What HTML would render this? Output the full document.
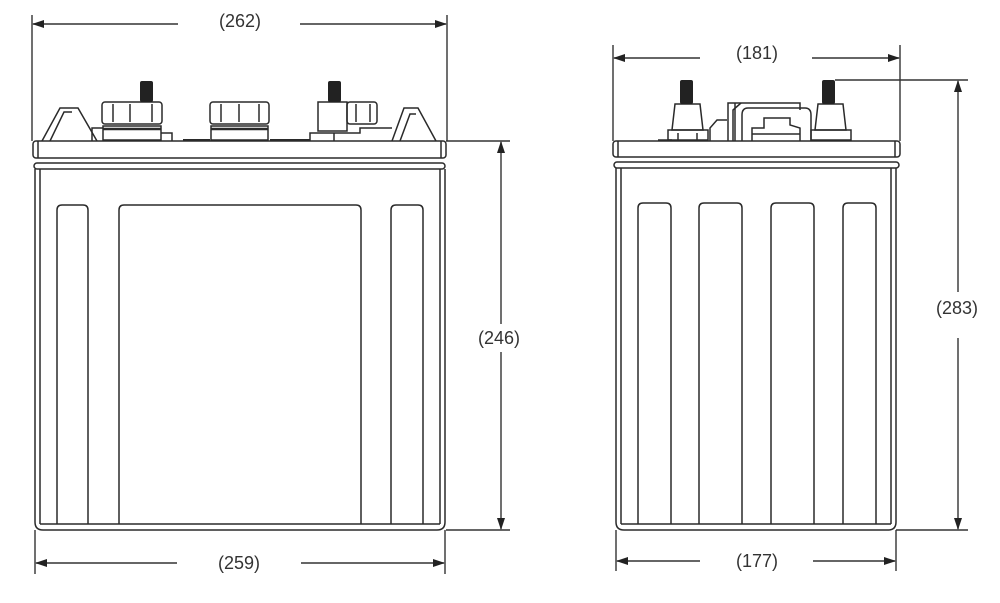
<!DOCTYPE html>
<html><head><meta charset="utf-8"><style>
html,body{margin:0;padding:0;background:#fff;}
svg{display:block;}
text{font-family:"Liberation Sans",sans-serif;font-size:18px;fill:#333;}
</style></head><body>
<svg width="1000" height="603" viewBox="0 0 1000 603" xmlns="http://www.w3.org/2000/svg">
<defs>
<marker id="a" markerWidth="12" markerHeight="8" refX="11" refY="4" orient="auto" markerUnits="userSpaceOnUse">
<path d="M0,0 L12,4 L0,8 Z" fill="#222"/></marker>
</defs>
<g stroke="#2a2a2a" stroke-width="1.5" fill="none">
<!-- LEFT BATTERY -->
<path d="M42,141 L60,108 L78,108 L97,141"/>
<path d="M50,141 L64,112 L72,112"/>
<path d="M392,141 L404,108 L418,108 L436,141"/>
<path d="M400,141 L410,114 L416,114"/>
<rect x="102" y="102" width="60" height="22" rx="3"/>
<line x1="113" y1="104" x2="113" y2="122"/><line x1="130" y1="104" x2="130" y2="122"/><line x1="152" y1="104" x2="152" y2="122"/>
<rect x="103" y="126" width="58" height="14"/>
<line x1="103" y1="129" x2="161" y2="129" stroke-width="2.5"/>
<path d="M161,133 L172,133 L172,141"/>
<path d="M92,141 L92,128 L103,128"/>
<rect x="210" y="102" width="59" height="22" rx="3"/>
<line x1="221" y1="104" x2="221" y2="122"/><line x1="239" y1="104" x2="239" y2="122"/><line x1="259" y1="104" x2="259" y2="122"/>
<rect x="211" y="126" width="57" height="14"/>
<line x1="211" y1="129" x2="268" y2="129" stroke-width="2.5"/>
<line x1="183" y1="140" x2="210" y2="140" stroke-width="2"/>
<line x1="270" y1="140" x2="310" y2="140" stroke-width="2"/>
<path d="M318,102 L347,102 L347,131 L318,131 Z"/>
<rect x="347" y="102" width="30" height="22" rx="3"/>
<line x1="356" y1="104" x2="356" y2="122"/><line x1="370" y1="104" x2="370" y2="122"/>
<path d="M310,141 L310,133 L360,133 L360,128 L392,128"/>
<line x1="334" y1="133" x2="334" y2="141"/>
<rect x="33" y="141" width="413" height="17" rx="3"/>
<line x1="38" y1="141" x2="38" y2="158"/><line x1="441" y1="141" x2="441" y2="158"/>
<rect x="34" y="163" width="411" height="6" rx="3"/>
<path d="M35,169 L35,522 Q35,530 43,530 L437,530 Q445,530 445,522 L445,169"/>
<line x1="40" y1="169" x2="40" y2="524"/><line x1="440" y1="169" x2="440" y2="524"/>
<line x1="40" y1="524" x2="440" y2="524"/>
<path d="M57,524 L57,210 Q57,205 62,205 L83,205 Q88,205 88,210 L88,524"/>
<path d="M119,524 L119,210 Q119,205 124,205 L356,205 Q361,205 361,210 L361,524"/>
<path d="M391,524 L391,210 Q391,205 396,205 L418,205 Q423,205 423,210 L423,524"/>

<!-- RIGHT BATTERY -->
<path d="M672,130 L675,104 L700,104 L703,130 Z"/>
<rect x="668" y="130" width="40" height="10"/>
<line x1="658" y1="140" x2="672" y2="140"/>
<line x1="678" y1="133" x2="678" y2="141"/><line x1="697" y1="133" x2="697" y2="141"/>
<path d="M815,130 L818,104 L843,104 L846,130 Z"/>
<rect x="811" y="130" width="40" height="10"/>
<path d="M728,141 L728,103 L800,103 L800,110"/>
<path d="M733,141 L733,110 L741,103"/>
<line x1="735" y1="103" x2="735" y2="141"/>
<path d="M742,141 L742,115 Q742,108 748,108 L805,108 Q811,108 811,115 L811,141"/>
<path d="M710,141 L710,128 L717,120 L727,120"/>
<path d="M752,141 L752,128 L764,128 L764,118 L790,118 L790,125 L800,128 L800,141"/>
<line x1="752" y1="134" x2="800" y2="134"/>
<rect x="613" y="141" width="287" height="16" rx="3"/>
<line x1="618" y1="141" x2="618" y2="157"/><line x1="895" y1="141" x2="895" y2="157"/>
<rect x="614" y="162" width="285" height="6" rx="3"/>
<path d="M616,168 L616,522 Q616,530 624,530 L888,530 Q896,530 896,522 L896,168"/>
<line x1="621" y1="168" x2="621" y2="524"/><line x1="891" y1="168" x2="891" y2="524"/>
<line x1="621" y1="524" x2="891" y2="524"/>
<path d="M638,524 L638,208 Q638,203 643,203 L666,203 Q671,203 671,208 L671,524"/>
<path d="M699,524 L699,208 Q699,203 704,203 L737,203 Q742,203 742,208 L742,524"/>
<path d="M771,524 L771,208 Q771,203 776,203 L809,203 Q814,203 814,208 L814,524"/>
<path d="M843,524 L843,208 Q843,203 848,203 L871,203 Q876,203 876,208 L876,524"/>
</g>
<g fill="#222">
<rect x="140" y="81" width="13" height="21" rx="2"/>
<rect x="328" y="81" width="13" height="21" rx="2"/>
<rect x="680" y="80" width="13" height="24" rx="2"/>
<rect x="822" y="80" width="13" height="24" rx="2"/>
</g>
<g stroke="#333" stroke-width="1.4" fill="none">
<line x1="32" y1="15" x2="32" y2="141"/><line x1="447" y1="15" x2="447" y2="141"/>
<line x1="178" y1="24" x2="33" y2="24" marker-end="url(#a)"/>
<line x1="300" y1="24" x2="446" y2="24" marker-end="url(#a)"/>
<line x1="35" y1="530" x2="35" y2="574"/><line x1="445" y1="530" x2="445" y2="574"/>
<line x1="177" y1="563" x2="36" y2="563" marker-end="url(#a)"/>
<line x1="301" y1="563" x2="444" y2="563" marker-end="url(#a)"/>
<line x1="446" y1="141" x2="510" y2="141"/><line x1="446" y1="530" x2="510" y2="530"/>
<line x1="501" y1="324" x2="501" y2="142" marker-end="url(#a)"/>
<line x1="501" y1="352" x2="501" y2="529" marker-end="url(#a)"/>
<line x1="613" y1="45" x2="613" y2="141"/><line x1="900" y1="45" x2="900" y2="141"/>
<line x1="700" y1="58" x2="614" y2="58" marker-end="url(#a)"/>
<line x1="812" y1="58" x2="899" y2="58" marker-end="url(#a)"/>
<line x1="616" y1="530" x2="616" y2="571"/><line x1="896" y1="530" x2="896" y2="571"/>
<line x1="700" y1="561" x2="617" y2="561" marker-end="url(#a)"/>
<line x1="813" y1="561" x2="895" y2="561" marker-end="url(#a)"/>
<line x1="835" y1="80" x2="968" y2="80"/><line x1="896" y1="530" x2="968" y2="530"/>
<line x1="958" y1="292" x2="958" y2="81" marker-end="url(#a)"/>
<line x1="958" y1="338" x2="958" y2="529" marker-end="url(#a)"/>
</g>
<text x="240" y="27" text-anchor="middle">(262)</text>
<text x="239" y="569" text-anchor="middle">(259)</text>
<text x="499" y="344" text-anchor="middle">(246)</text>
<text x="757" y="59" text-anchor="middle">(181)</text>
<text x="757" y="567" text-anchor="middle">(177)</text>
<text x="957" y="314" text-anchor="middle">(283)</text>
</svg>
</body></html>
